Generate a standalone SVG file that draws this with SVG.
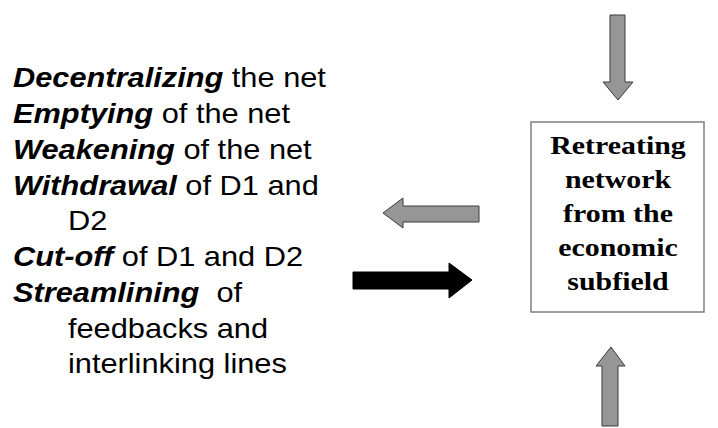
<svg xmlns="http://www.w3.org/2000/svg" width="718" height="428" viewBox="0 0 718 428">
<style>
.lt{font-family:"Liberation Sans",Arial,sans-serif;font-size:27px;fill:#000}
.bi{font-weight:bold;font-style:italic}
.bx{font-family:"Liberation Serif","Times New Roman",serif;font-size:26px;font-weight:bold;fill:#000;text-anchor:middle}
.ga{fill:#969696;stroke:#3a3a3a;stroke-width:1}
.ba{fill:#000;stroke:#000;stroke-width:1}
</style>
<rect width="718" height="428" fill="#fff"/>
<g id="list" transform="scale(1.14,1)">
<text class="lt" x="11.4" y="87"><tspan class="bi">Decentralizing</tspan> the net</text>
<text class="lt" x="11.4" y="123"><tspan class="bi">Emptying</tspan> of the net</text>
<text class="lt" x="11.4" y="159"><tspan class="bi">Weakening</tspan> of the net</text>
<text class="lt" x="11.4" y="195"><tspan class="bi">Withdrawal</tspan> of D1 and</text>
<text class="lt" x="59.6" y="230">D2</text>
<text class="lt" x="11.4" y="266"><tspan class="bi">Cut-off</tspan> of D1 and D2</text>
<text class="lt" x="11.4" y="302" xml:space="preserve"><tspan class="bi">Streamlining</tspan>  of</text>
<text class="lt" x="59.6" y="338">feedbacks and</text>
<text class="lt" x="59.6" y="373">interlinking lines</text>
</g>
<g id="box">
<rect x="531" y="122" width="173" height="190" fill="#fff" stroke="#7f7f7f" stroke-width="1.5"/>
<g transform="scale(1.15,1)">
<text class="bx" x="537.4" y="154">Retreating</text>
<text class="bx" x="537.4" y="188">network</text>
<text class="bx" x="537.4" y="222">from the</text>
<text class="bx" x="537.4" y="256">economic</text>
<text class="bx" x="537.4" y="290">subfield</text>
</g>
</g>
<g id="connectors">
<polygon class="ga" points="610,15 625,15 625,82 633,82 618,100 603,82 610,82"/>
<polygon class="ga" points="602,426 618,426 618,366 625,366 611,347 596,366 602,366"/>
<polygon class="ga" points="479,206 479,222 403,222 403,228 383,213 403,198 403,206"/>
<polygon class="ba" points="353,272 449,272 449,263 472,280 449,298 449,289 353,289"/>
</g>
</svg>
